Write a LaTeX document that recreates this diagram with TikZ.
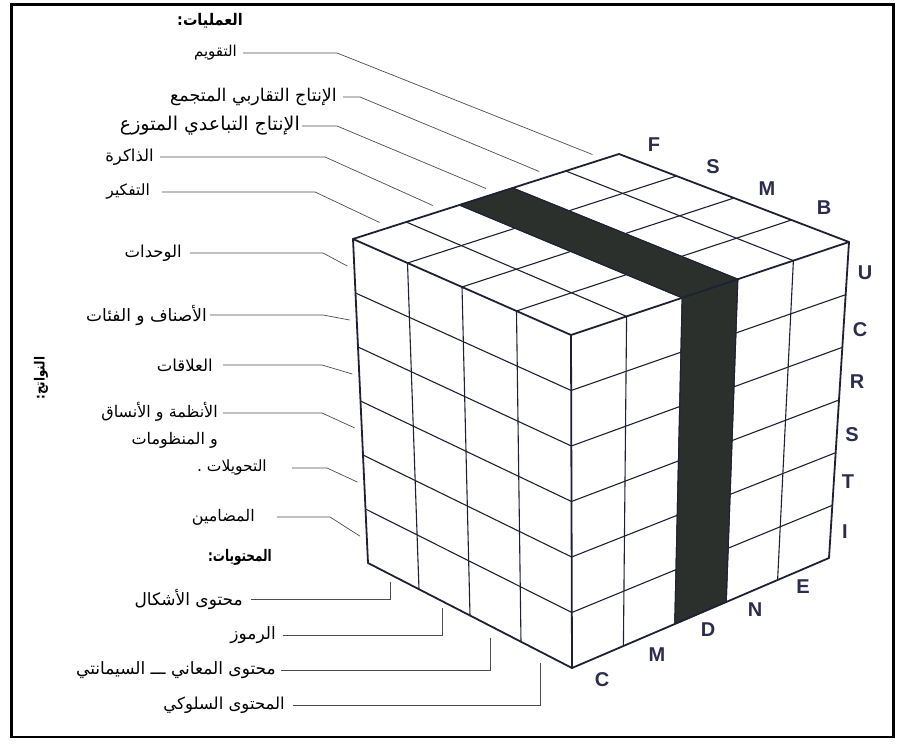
\documentclass[tikz,border=0pt]{standalone}
\usepackage{fontspec}
\usepackage{graphicx}
\setmainfont{Liberation Sans}
\newfontfamily\ar[Script=Arabic]{DejaVu Sans}
\TeXXeTstate=1
\usetikzlibrary{calc}
\definecolor{ink}{RGB}{30,32,52}
\definecolor{lblink}{RGB}{42,45,78}
\definecolor{stripefill}{RGB}{44,48,44}
\newcommand{\arsz}[1]{\ar\fontsize{#1}{#1}\selectfont}
\tikzset{
  edge/.style={draw=ink, line width=1.8pt, line join=round, line cap=round},
  gridln/.style={draw=ink, line width=1.1pt},
  lead/.style={draw=black!70, line width=0.7pt},
  lbl/.style={font=\arsz{16.5}, inner ysep=0pt, inner xsep=6pt, anchor=east},
  hdr/.style={font=\ar\bfseries\fontsize{16}{18}\selectfont, inner sep=0pt},
  axl/.style={font=\bfseries\fontsize{20}{22}\selectfont, text=lblink, inner sep=0pt},
}
\begin{document}
\begin{tikzpicture}[x=1pt,y=-1pt]
\useasboundingbox (0,0) rectangle (906,744);
\draw[line width=2.5pt] (11.5,4.5) rectangle (893.5,737);

% cube corners
\coordinate (A) at (353,239);
\coordinate (B) at (619,154);
\coordinate (R) at (849,242);
\coordinate (N) at (571,335);
\coordinate (NB) at (572,668);
\coordinate (RB) at (829,558);
\coordinate (AB) at (368,563);

% grid: top face
\foreach \i in {1,...,4} \draw[gridln] ($(A)!\i/5!(B)$) -- ($(N)!\i/5!(R)$);
\foreach \j in {1,2,3} \draw[gridln] ($(A)!\j/4!(N)$) -- ($(B)!\j/4!(R)$);
% grid: left face
\foreach \i in {1,2,3} \draw[gridln] ($(A)!\i/4!(N)$) -- ($(AB)!\i/4!(NB)$);
\foreach \j in {1,...,5} \draw[gridln] ($(A)!\j/6!(AB)$) -- ($(N)!\j/6!(NB)$);
% grid: right face
\foreach \i in {1,...,4} \draw[gridln] ($(N)!\i/5!(R)$) -- ($(NB)!\i/5!(RB)$);
\foreach \j in {1,...,5} \draw[gridln] ($(N)!\j/6!(NB)$) -- ($(R)!\j/6!(RB)$);

% dark stripe (divergent production)
\filldraw[fill=stripefill, draw=ink, line width=1.1pt, line join=round]
  ($(A)!0.4!(B)$) -- ($(A)!0.6!(B)$) -- ($(N)!0.6!(R)$) -- ($(NB)!0.6!(RB)$)
  -- ($(NB)!0.4!(RB)$) -- ($(N)!0.4!(R)$) -- cycle;

% outline
\draw[edge] (A) -- (B) -- (R) -- (RB) -- (NB) -- (AB) -- cycle;
\draw[edge] (A) -- (N) -- (R);
\draw[edge] (N) -- (NB);

% axis letters
\node[axl] (cF) at (654,145) {F};
\node[axl] (cS) at (713,167) {S};
\node[axl] (cM) at (767,189) {M};
\node[axl] (cB) at (824,208) {B};
\node[axl] (pU) at (865,273) {U};
\node[axl] (pC) at (860,330) {C};
\node[axl] (pR) at (857,382) {R};
\node[axl] (pS) at (852,435) {S};
\node[axl] (pT) at (848,482) {T};
\node[axl] (pI) at (845,532) {I};
\node[axl] (oC) at (602,680) {C};
\node[axl] (oM) at (657,655) {M};
\node[axl] (oD) at (708,630) {D};
\node[axl] (oN) at (755,610) {N};
\node[axl] (oE) at (803,587) {E};

% headers
\node[hdr] (hOps) at (210,21) {\scalebox{0.9}[1]{\beginR العمليات:\endR}};
\node[hdr] (hCon) at (240,557) {\scalebox{0.75}[1]{\beginR المحتويات:\endR}};
\node[hdr, font=\ar\bfseries\fontsize{14}{16}\selectfont, rotate=90] (hPro) at (41,378) {\scalebox{0.85}[1]{\beginR النواتج:\endR}};

% operations labels
\node[lbl, font=\arsz{15}] (op5) at (243,53) {\beginR التقويم\endR};
\node[lbl, font=\arsz{17.5}] (op4) at (343,97) {\beginR الإنتاج التقاربي المتجمع\endR};
\node[lbl, font=\arsz{19}, inner xsep=2pt] (op3) at (302,126) {\beginR الإنتاج التباعدي المتوزع\endR};
\node[lbl] (op2) at (160,157) {\beginR الذاكرة\endR};
\node[lbl, font=\arsz{15.5}, inner xsep=12pt] (op1) at (162,192) {\beginR التفكير\endR};
\foreach \n/\f in {op1/0.1,op2/0.3,op3/0.5,op4/0.7,op5/0.9}
  \coordinate (\n e) at ($(A)!\f!(B)+(0,-8)$);
\coordinate (op5b) at (337,53);
\coordinate (op4b) at (360,97);
\coordinate (op3b) at (337,126);
\coordinate (op2b) at (325,157);
\coordinate (op1b) at (315,192);
\foreach \n in {op1,op2,op3,op4,op5}
  \draw[lead] (\n.east) -- (\n b) -- (\n e);

% products labels
\node[lbl, inner xsep=8pt] (pr1) at (190,253) {\beginR الوحدات\endR};
\node[lbl, font=\arsz{17}, inner xsep=3pt] (pr2) at (210,315) {\beginR الأصناف و الفئات\endR};
\node[lbl, inner xsep=10pt] (pr3) at (223,365) {\beginR العلاقات\endR};
\node[lbl, inner xsep=5pt, anchor=north east, align=right, font=\ar\fontsize{16}{27}\selectfont] (pr4) at (223,402) {\beginR الأنظمة و الأنساق\endR\\\beginR و المنظومات\endR};
\node[lbl, font=\arsz{15.5}, inner xsep=25pt] (pr5) at (292,468) {\beginR التحويلات .\endR};
\node[lbl, font=\arsz{16}, inner xsep=22pt] (pr6) at (277,517) {\beginR المضامين\endR};
\foreach \n/\f in {pr1/1,pr2/3,pr3/5,pr4/7,pr5/9,pr6/11}
  \coordinate (\n e) at ($(A)!\f/12!(AB)+(-7,0)$);
\coordinate (pr1b) at (323,253);
\coordinate (pr2b) at (323,315);
\coordinate (pr3b) at (322,365);
\coordinate (pr4b) at (322,413);
\coordinate (pr5b) at (327,468);
\coordinate (pr6b) at (330,517);
\foreach \n in {pr1,pr2,pr3,pr5,pr6}
  \draw[lead] (\n.east) -- (\n b) -- (\n e);
\draw[lead] ($(pr4.north east)+(0,11)$) -- (pr4b) -- (pr4e);

% contents labels
\node[lbl, font=\arsz{17}, inner xsep=8pt] (ct1) at (251,599) {\beginR محتوى الأشكال\endR};
\node[lbl, font=\arsz{17}, inner xsep=7pt] (ct2) at (283,635) {\beginR الرموز\endR};
\node[lbl, font=\arsz{17}, inner xsep=5pt] (ct3) at (281,670) {\beginR محتوى المعاني ـــ السيمانتي\endR};
\node[lbl, inner xsep=8pt] (ct4) at (293,705) {\beginR المحتوى السلوكي\endR};
\coordinate (ct1b) at (390,599);
\coordinate (ct2b) at (442,635);
\coordinate (ct3b) at (490,670);
\coordinate (ct4b) at (540,705);
\coordinate (ct1e) at (390,582);
\coordinate (ct2e) at (442,608);
\coordinate (ct3e) at (490,638);
\coordinate (ct4e) at (540,663);
\foreach \n in {ct1,ct2,ct3,ct4}
  \draw[lead] (\n.east) -- (\n b) -- (\n e);
\end{tikzpicture}
\end{document}
